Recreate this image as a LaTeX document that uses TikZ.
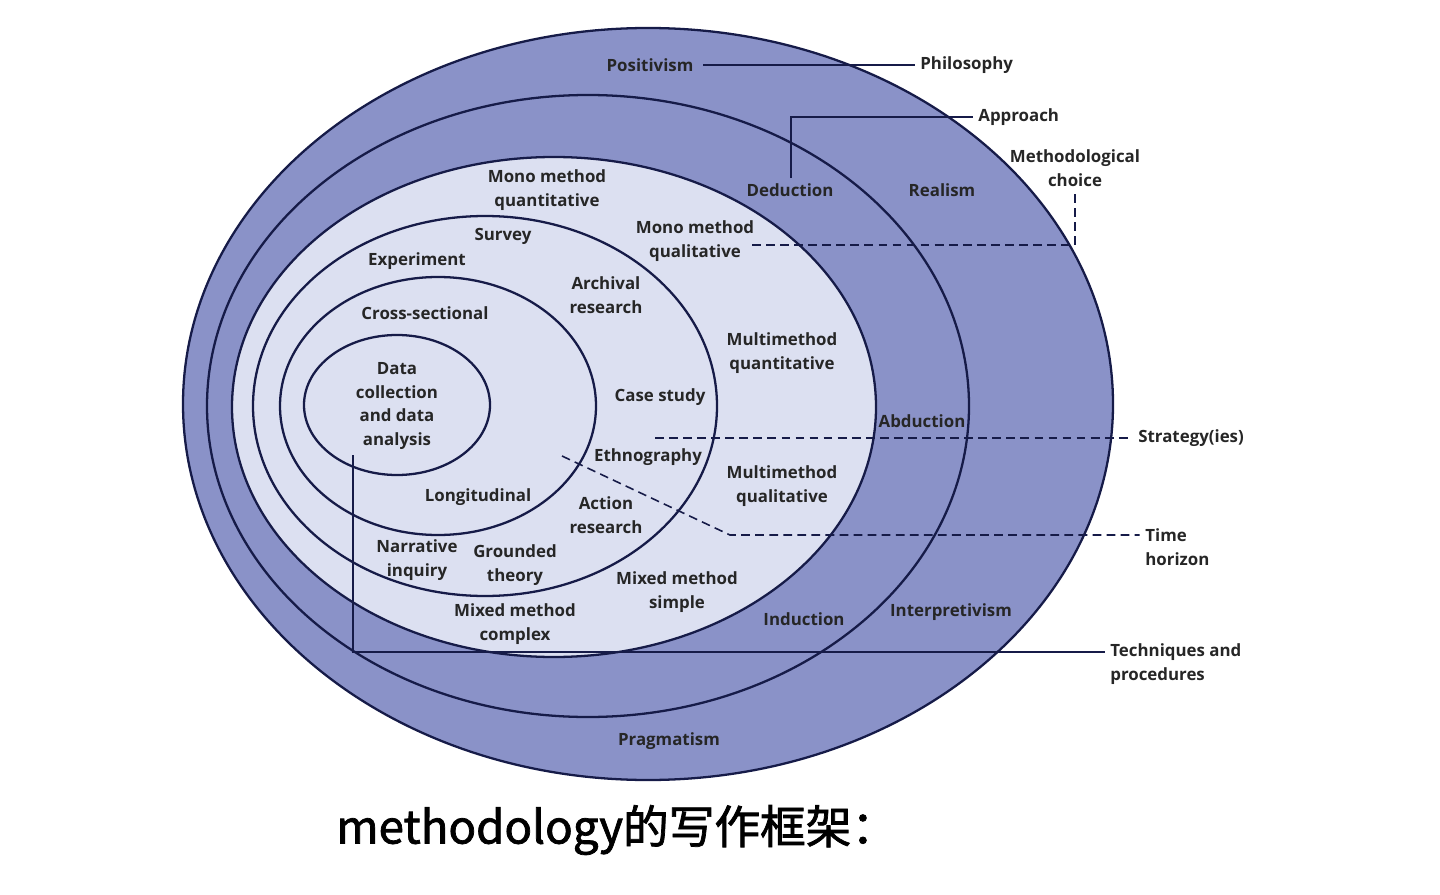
\documentclass[tikz,border=0pt]{standalone}
\usepackage{fontspec}
\setmainfont{Open Sans}
\newfontfamily\cjk[FakeBold=1.6]{Noto Sans CJK SC}
\usepackage{tikz}
\usetikzlibrary{positioning}

\definecolor{onionblue}{HTML}{8A92C8}
\definecolor{onionlight}{HTML}{DCE0F1}
\definecolor{onionline}{HTML}{161B48}

\tikzset{
  layer/.style={draw=onionline, line width=1.3pt},
  lbl/.style={align=center, font=\bfseries\fontsize{9.6}{13.6}\selectfont, text=black!85, inner sep=0pt},
  side/.style={lbl, align=left, anchor=west},
  leader/.style={draw=onionline, line width=0.9pt, shorten >=3pt},
  dleader/.style={leader, dash pattern=on 5pt off 3pt},
}

\begin{document}
\begin{tikzpicture}[x=0.02cm, y=-0.02cm]
  \useasboundingbox (0,0) rectangle (1440,895);

  % the onion, outside in
  \draw[layer, fill=onionblue] (648,404) ellipse (465 and 376);
  \draw[layer, fill=onionblue] (588,406) ellipse (381 and 311);
  \draw[layer, fill=onionlight] (554,407) ellipse (322 and 250);
  \draw[layer] (485,406) ellipse (232 and 190);
  \draw[layer] (438,406) ellipse (158 and 129);
  \draw[layer] (397,405) ellipse (93 and 70);

  % ring labels
  \node[lbl] (positivism) at (650,65) {Positivism};
  \node[lbl] (realism) at (942,190) {Realism};
  \node[lbl] (interpretivism) at (951,612) {Interpretivism};
  \node[lbl] (pragmatism) at (669,741) {Pragmatism};

  \node[lbl] (deduction) at (790,190) {Deduction};
  \node[lbl] (abduction) at (922,421) {Abduction};
  \node[lbl] (induction) at (804,619) {Induction};

  \node[lbl] (mono_quan) at (547,190) {Mono method\\quantitative};
  \node[lbl] (mono_qual) at (695,241) {Mono method\\qualitative};
  \node[lbl] (multi_quan) at (782,353) {Multimethod\\quantitative};
  \node[lbl] (multi_qual) at (782,486) {Multimethod\\qualitative};
  \node[lbl] (mixed_simple) at (677,592) {Mixed method\\simple};
  \node[lbl] (mixed_complex) at (515,624) {Mixed method\\complex};

  \node[lbl] (survey) at (503,236) {Survey};
  \node[lbl] (experiment) at (417,261) {Experiment};
  \node[lbl] (archival) at (606,295) {Archival\\research};
  \node[lbl] (case_study) at (660,397) {Case study};
  \node[lbl] (ethnography) at (648,457) {Ethnography};
  \node[lbl] (action) at (606,515) {Action\\research};
  \node[lbl] (narrative) at (417,560) {Narrative\\inquiry};
  \node[lbl] (grounded) at (515,565) {Grounded\\theory};

  \node[lbl] (cross) at (425,313) {Cross-sectional};
  \node[lbl] (longitudinal) at (478,497) {Longitudinal};

  \node[lbl] (data) at (397,406) {Data\\collection\\and data\\analysis};

  % layer names on the right
  \node[side] (philosophy) at (920,65) {Philosophy};
  \node[side] (approach) at (978,117) {Approach};
  \node[lbl] (method_choice) at (1075,168) {Methodological\\choice};
  \node[side] (strategy) at (1138,438) {Strategy(ies)};
  \node[side] (time_horizon) at (1145,547) {Time\\horizon};
  \node[side] (techniques) at (1110,664) {Techniques and\\procedures};

  % leaders
  \coordinate (phil_end) at (703,65);
  \coordinate (appr_end) at (791,178);
  \coordinate (choice_end) at (752,245);
  \coordinate (strat_end) at (655,438);
  \coordinate (time_end) at (562,456);
  \coordinate (tech_end) at (353,455);

  \draw[leader] (phil_end) -- (philosophy.west);
  \draw[leader] (appr_end) |- (approach.west);
  \draw[dleader] (choice_end) -| (method_choice.south);
  \draw[dleader] (strat_end) -- (strategy.west);
  \draw[dleader] (time_end) -- (730,535) -- (time_horizon.west |- 0,535);
  \draw[leader] (tech_end) |- (techniques.west |- 0,652);

  \node[font=\cjk\fontsize{26}{30}\selectfont, inner sep=0pt, anchor=west] (caption) at (336,830) {methodology的写作框架：};
\end{tikzpicture}
\end{document}
